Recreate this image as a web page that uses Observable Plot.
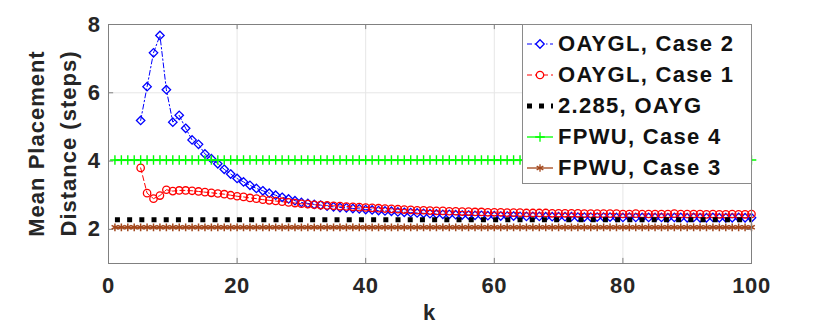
<!DOCTYPE html>
<html>
<head>
<meta charset="utf-8">
<script src="https://cdn.jsdelivr.net/npm/d3@7"></script>
<script src="https://cdn.jsdelivr.net/npm/@observablehq/plot@0.6"></script>
<style>
  html, body { margin: 0; padding: 0; background: #fff; }
  #wrap { position: relative; width: 830px; height: 327px; font-family: 'Liberation Sans', Arial, Helvetica, sans-serif; }
  #legend { position: absolute; left: 522px; top: 24px; width: 230px; height: 160px; box-sizing: border-box;
            border: 1px solid #8a8a8a; background: #fff; padding-top: 3px; }
  .row { height: 31px; display: flex; align-items: center; }
  .row svg { margin-left: 3px; flex: none; }
  .row span { margin-left: 4px; font-size: 22px; font-weight: bold; letter-spacing: 1.3px; color: #111; white-space: nowrap; }
</style>
</head>
<body>
<div id="wrap">
  <div id="chart"></div>
  <div id="legend"></div>
</div>
<script>
// ---- data ----
const xTicks = [0, 20, 40, 60, 80, 100];
const yTicks = [2, 4, 6, 8];
const seriesNames = ["OAYGL, Case 2", "OAYGL, Case 1", "2.285, OAYG", "FPWU, Case 4", "FPWU, Case 3"];

// OAYGL, Case 2 : k = 5..100
const oayglCase2 = [
  5.19, 6.18, 7.17, 7.68, 6.09, 5.14, 5.34, 4.96, 4.62, 4.49,
  4.21, 4.07, 3.92, 3.76, 3.62, 3.49, 3.39, 3.29, 3.20, 3.13,
  3.06, 3.00, 2.94, 2.89, 2.84, 2.79, 2.76, 2.73, 2.71, 2.68,
  2.66, 2.64, 2.63, 2.61, 2.60, 2.58, 2.57, 2.55, 2.54, 2.53,
  2.51, 2.50, 2.49, 2.48, 2.47, 2.46, 2.45, 2.44, 2.44, 2.43,
  2.42, 2.42, 2.41, 2.41, 2.40, 2.40, 2.39, 2.39, 2.39, 2.38,
  2.38, 2.38, 2.38, 2.37, 2.37, 2.37, 2.37, 2.37, 2.36, 2.36,
  2.36, 2.36, 2.36, 2.36, 2.35, 2.35, 2.36, 2.35, 2.35, 2.35,
  2.35, 2.35, 2.34, 2.35, 2.35, 2.34, 2.35, 2.34, 2.34, 2.35,
  2.34, 2.34, 2.34, 2.35, 2.34, 2.34
];
// OAYGL, Case 1 : k = 5..100
const oayglCase1 = [
  3.80, 3.06, 2.90, 2.99, 3.16, 3.12, 3.14, 3.14, 3.13, 3.11,
  3.09, 3.07, 3.05, 3.03, 3.00, 2.97, 2.95, 2.92, 2.90, 2.87,
  2.85, 2.83, 2.81, 2.79, 2.77, 2.75, 2.74, 2.72, 2.71, 2.70,
  2.69, 2.68, 2.67, 2.66, 2.65, 2.64, 2.63, 2.62, 2.61, 2.60,
  2.59, 2.58, 2.57, 2.56, 2.56, 2.55, 2.54, 2.54, 2.53, 2.53,
  2.52, 2.52, 2.51, 2.51, 2.50, 2.50, 2.50, 2.49, 2.49, 2.49,
  2.48, 2.48, 2.48, 2.48, 2.47, 2.47, 2.47, 2.47, 2.47, 2.46,
  2.46, 2.46, 2.46, 2.46, 2.46, 2.45, 2.45, 2.46, 2.45, 2.45,
  2.45, 2.45, 2.45, 2.46, 2.45, 2.45, 2.45, 2.45, 2.44, 2.45,
  2.44, 2.44, 2.45, 2.44, 2.44, 2.45
];
const oaygValue = 2.285;       // constant reference line
const fpwuCase4Value = 4.03;   // flat
const fpwuCase3Value = 2.06;   // flat
const kStartOAYGL = 5;
const kStartFlat = 1;
const kEnd = 100;

// ---- tables ----
const blueData = oayglCase2.map((v, i) => ({k: kStartOAYGL + i, v}));
const redData = oayglCase1.map((v, i) => ({k: kStartOAYGL + i, v}));
const flatK = d3.range(kStartFlat, kEnd + 1);
const blackData = flatK.map(k => ({k, v: oaygValue}));
const greenData = flatK.map(k => ({k, v: fpwuCase4Value}));
const brownData = flatK.map(k => ({k, v: fpwuCase3Value}));

const C = {blue: "#0000ff", red: "#ff0000", black: "#000000", green: "#00ff00", brown: "#a2461a"};
const FONT = "'Liberation Sans', Arial, Helvetica, sans-serif";
const tickLenX = 0.8, tickLenY = 0.15; // inward tick lengths in data units

const chart = Plot.plot({
  width: 830, height: 327,
  marginLeft: 108, marginRight: 79, marginTop: 24, marginBottom: 64,
  style: {fontFamily: FONT, background: "transparent", overflow: "visible", letterSpacing: "0.6px"},
  x: {domain: [0, 100]},
  y: {domain: [1, 8]},
  marks: [
    Plot.gridX(xTicks, {stroke: "#e6e6e6", strokeOpacity: 1}),
    Plot.gridY(yTicks, {stroke: "#e6e6e6", strokeOpacity: 1}),
    Plot.ruleX(xTicks, {y1: 1, y2: 1 + tickLenY, stroke: "#808080"}),
    Plot.ruleX(xTicks, {y1: 8 - tickLenY, y2: 8, stroke: "#808080"}),
    Plot.ruleY(yTicks, {x1: 0, x2: tickLenX, stroke: "#808080"}),
    Plot.ruleY(yTicks, {x1: 100 - tickLenX, x2: 100, stroke: "#808080"}),
    // OAYGL Case 2
    Plot.line(blueData, {x: "k", y: "v", stroke: C.blue, strokeWidth: 1, strokeDasharray: "5,2.5,1.5,2.5"}),
    Plot.dot(blueData, {x: "k", y: "v", symbol: "diamond2", r: 3.8, stroke: C.blue, fill: "none", strokeWidth: 1.3}),
    // OAYGL Case 1
    Plot.line(redData, {x: "k", y: "v", stroke: C.red, strokeWidth: 1, strokeDasharray: "5,3"}),
    Plot.dot(redData, {x: "k", y: "v", symbol: "circle", r: 3.7, stroke: C.red, fill: "none", strokeWidth: 1.3}),
    // 2.285 OAYG
    Plot.line(blackData, {x: "k", y: "v", stroke: C.black, strokeWidth: 5, strokeDasharray: "5,7.2", strokeLinecap: "butt"}),
    // FPWU Case 4
    Plot.line(greenData, {x: "k", y: "v", stroke: C.green, strokeWidth: 1.3}),
    Plot.dot(greenData, {x: "k", y: "v", symbol: "plus", r: 3.2, stroke: C.green, strokeWidth: 1.4}),
    // FPWU Case 3
    Plot.line(brownData, {x: "k", y: "v", stroke: C.brown, strokeWidth: 1.3}),
    Plot.dot(brownData, {x: "k", y: "v", symbol: "asterisk", r: 3.6, stroke: C.brown, strokeWidth: 1.5}),
    Plot.frame({stroke: "#808080"}),
    Plot.axisX(xTicks, {tickSize: 0, tickPadding: 14, fontSize: 22, fontWeight: "bold", color: "#262626", label: null}),
    Plot.axisY(yTicks, {tickSize: 0, tickPadding: 8, fontSize: 22, fontWeight: "bold", color: "#262626", label: null})
  ]
});
document.getElementById("chart").appendChild(chart);

// axis titles
const svg = d3.select(chart);
const ylab = svg.append("text")
  .attr("transform", "translate(44,143.5) rotate(-90)")
  .attr("text-anchor", "middle")
  .attr("font-size", 22).attr("font-weight", "bold").attr("fill", "#262626")
  .style("letter-spacing", "1px");
ylab.append("tspan").attr("x", 0).attr("dy", 0).text("Mean Placement");
ylab.append("tspan").attr("x", 0).attr("dy", 32).text("Distance (steps)");
svg.append("text")
  .attr("x", 429.5).attr("y", 320)
  .attr("text-anchor", "middle")
  .attr("font-size", 22).attr("font-weight", "bold").attr("fill", "#262626")
  .text("k");

// legend
const legendSpec = [
  {name: seriesNames[0], color: C.blue, dash: "5,2.5,1.5,2.5", width: 1, symbol: d3.symbolDiamond2, r: 3.8},
  {name: seriesNames[1], color: C.red, dash: "5,3", width: 1, symbol: d3.symbolCircle, r: 3.7},
  {name: seriesNames[2], color: C.black, dash: "5,7", width: 5, symbol: null},
  {name: seriesNames[3], color: C.green, dash: null, width: 1.3, symbol: d3.symbolPlus, r: 3.2},
  {name: seriesNames[4], color: C.brown, dash: null, width: 1.3, symbol: d3.symbolAsterisk, r: 3.6}
];
const legend = d3.select("#legend");
for (const s of legendSpec) {
  const row = legend.append("div").attr("class", "row");
  const g = row.append("svg").attr("width", 28).attr("height", 20);
  g.append("line").attr("x1", 1).attr("x2", 27).attr("y1", 10).attr("y2", 10)
    .attr("stroke", s.color).attr("stroke-width", s.width)
    .attr("stroke-dasharray", s.dash).attr("stroke-linecap", "butt");
  if (s.symbol) {
    g.append("path").attr("transform", "translate(14,10)")
      .attr("d", d3.symbol(s.symbol, Math.PI * s.r * s.r)())
      .attr("fill", s.symbol === d3.symbolCircle || s.symbol === d3.symbolDiamond2 ? "#fff" : "none")
      .attr("stroke", s.color).attr("stroke-width", 1.3);
  }
  row.append("span").text(s.name);
}
</script>
</body>
</html>
